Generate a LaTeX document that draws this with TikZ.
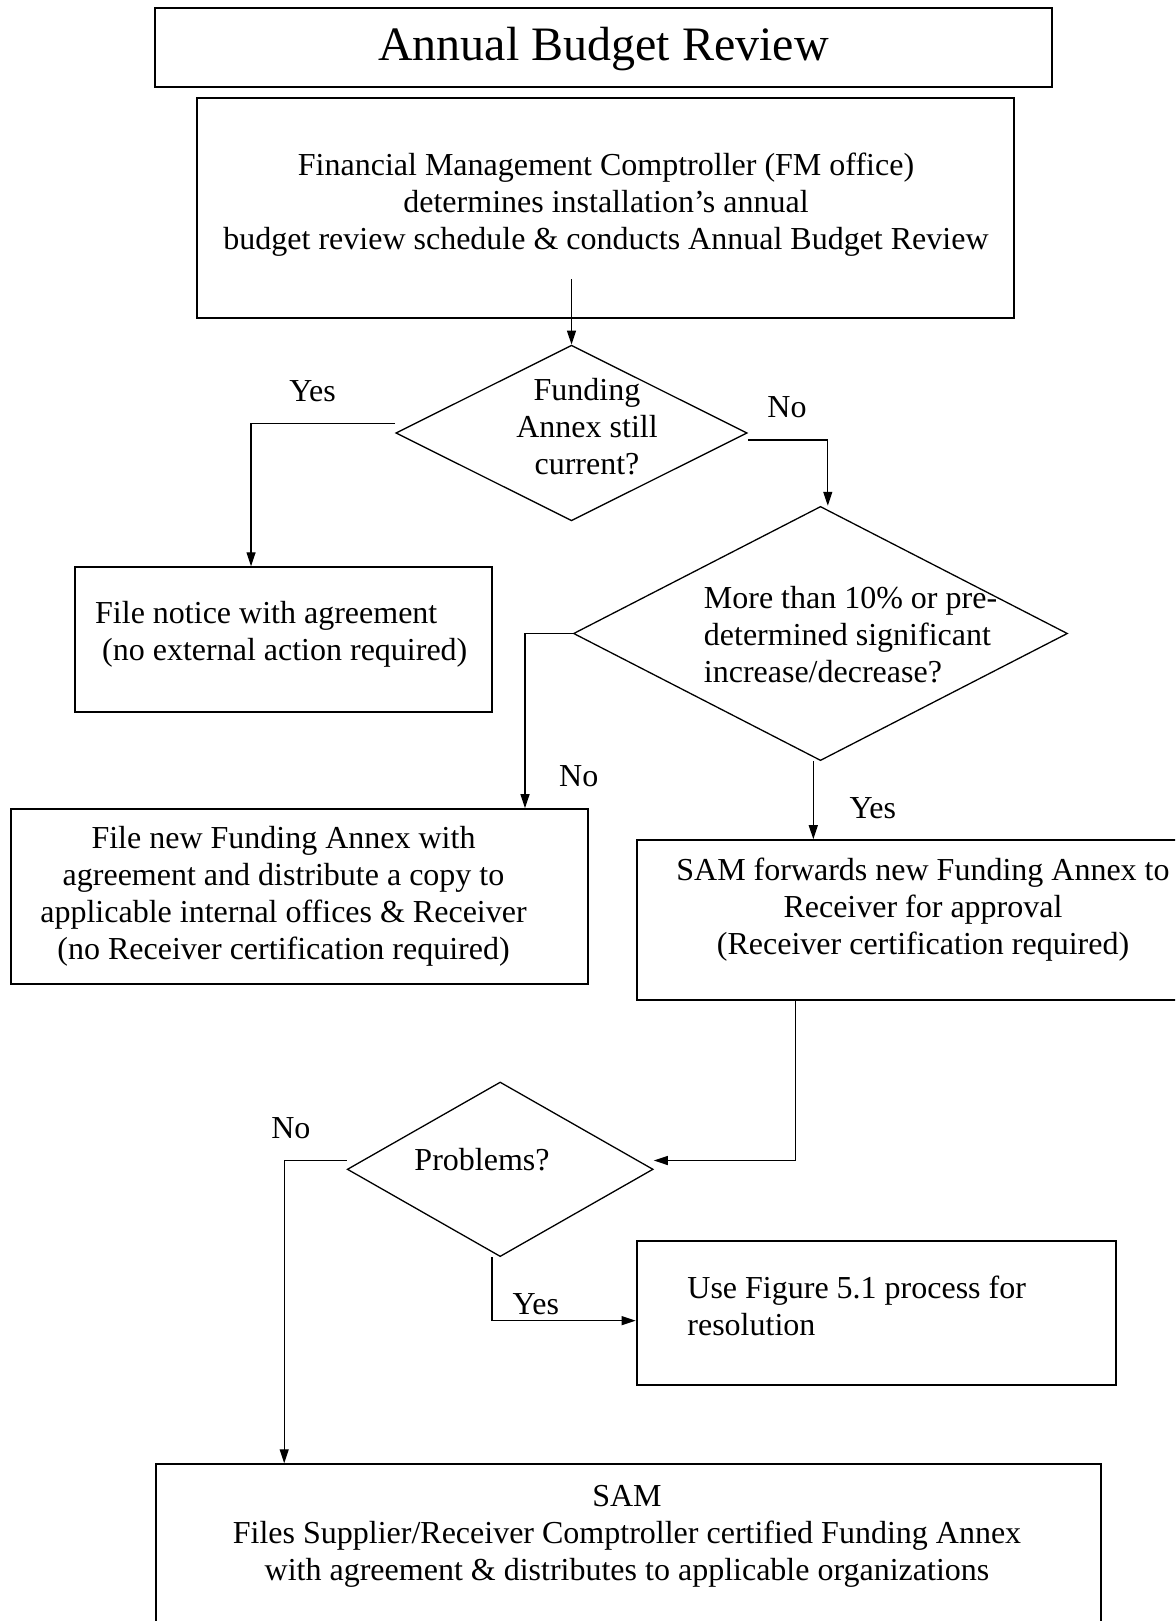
\documentclass[tikz,border=0pt]{standalone}
\usepackage{fontspec}
\setmainfont{Liberation Serif}
\usetikzlibrary{shapes.geometric,arrows.meta,calc}
\begin{document}
\begin{tikzpicture}[x=1pt,y=-1pt,
  box/.style={draw, line width=2pt, inner sep=0pt},
  dia/.style={draw, diamond, line width=1.3pt, inner sep=0pt},
  txt/.style={inner sep=0pt, font=\fontsize{32}{37}\selectfont},
  arr/.style={line width=1.3pt, -{Triangle[length=14pt,width=9pt]}},
]
\clip (0,0) rectangle (1175,1621);
\fill[white] (0,0) rectangle (1175,1621);

% boxes
\node[box, minimum width=897pt, minimum height=78.5pt] (title) at (603.5,47.5) {};
\node[txt, font=\fontsize{48}{55}\selectfont] (titletxt) at (603.5,49.5) {Annual Budget Review};

\node[box, minimum width=816.4pt, minimum height=220.1pt] (fm) at (605.6,208.25) {};
\node[txt, align=center] (fmtxt) at (606,205) {Financial Management Comptroller (FM office)\\determines installation’s annual\\budget review schedule \& conducts Annual Budget Review};

\node[dia, minimum width=351.4pt, minimum height=175.6pt] (d1) at (571.5,433) {};
\node[txt, align=center] (d1txt) at (587,427) {Funding\\Annex still\\current?};

\node[box, minimum width=416.5pt, minimum height=144.7pt] (notice) at (283.65,639.65) {};
\node[txt, align=left, anchor=west] (noticetxt) at (95,634.5) {File notice with agreement\\\hspace*{7pt}(no external action required)};

\node[dia, minimum width=494pt, minimum height=254.2pt] (d2) at (820.5,633.5) {};
\node[txt, align=left, anchor=west] (d2txt) at (703.7,634.5) {More than 10\% or pre-\\determined significant\\increase/decrease?};

\node[box, minimum width=576.6pt, minimum height=174.6pt] (filenew) at (299.7,896.5) {};
\node[txt, align=center] (filenewtxt) at (283.5,896) {File new Funding Annex with\\agreement and distribute a copy to\\applicable internal offices \& Receiver\\(no Receiver certification required)};

\node[box, minimum width=572.4pt, minimum height=160.1pt] (samfwd) at (922.8,920.25) {};
\node[txt, align=center] (samfwdtxt) at (923,909.5) {SAM forwards new Funding Annex to\\Receiver for approval\\(Receiver certification required)};

\node[dia, minimum width=305.9pt, minimum height=174.6pt] (d3) at (500.2,1169.3) {};
\node[txt] (d3txt) at (482,1159.5) {Problems?};

\node[box, minimum width=479.4pt, minimum height=143.7pt] (usefig) at (876.3,1312.95) {};
\node[txt, align=left, anchor=west] (usefigtxt) at (687.2,1306) {Use Figure 5.1 process for\\resolution};

\node[box, minimum width=944.6pt, minimum height=235.7pt] (final) at (628.3,1582.15) {};
\node[txt, align=center] (finaltxt) at (627,1536.5) {SAM\\Files Supplier/Receiver Comptroller certified Funding Annex\\with agreement \& distributes to applicable organizations};

% labels
\node[txt] (yes1) at (312.6,391) {Yes};
\node[txt] (no1) at (787,406.7) {No};
\node[txt] (no2) at (578.7,776) {No};
\node[txt] (yes2) at (872.8,807.7) {Yes};
\node[txt] (no3) at (290.9,1128.3) {No};
\node[txt] (yes3) at (535.8,1304) {Yes};

% connectors
\coordinate (s1) at (571.5,279);
\draw[arr] (s1) -- (d1.north);
\draw[arr] ([yshift=9.3pt]d1.west) -| ([xshift=-32.6pt]notice.north);
\draw[arr] ([yshift=-7pt]d1.east) -| ([xshift=7.3pt]d2.north);
\draw[arr] (d2.west) -| ([xshift=225.3pt]filenew.north);
\draw[arr] ([xshift=-7.2pt]d2.south) -- ([xshift=-7.2pt]d2.south |- samfwd.north);
\draw[arr] ([xshift=-127.1pt]samfwd.south) |- ([yshift=8.8pt]d3.east);
\draw[arr] ([yshift=8.8pt]d3.west) -| ([xshift=-344.1pt]final.north);
\draw[arr] ([xshift=-8.3pt]d3.south) |- ([yshift=-7.7pt]usefig.west);
\end{tikzpicture}
\end{document}
